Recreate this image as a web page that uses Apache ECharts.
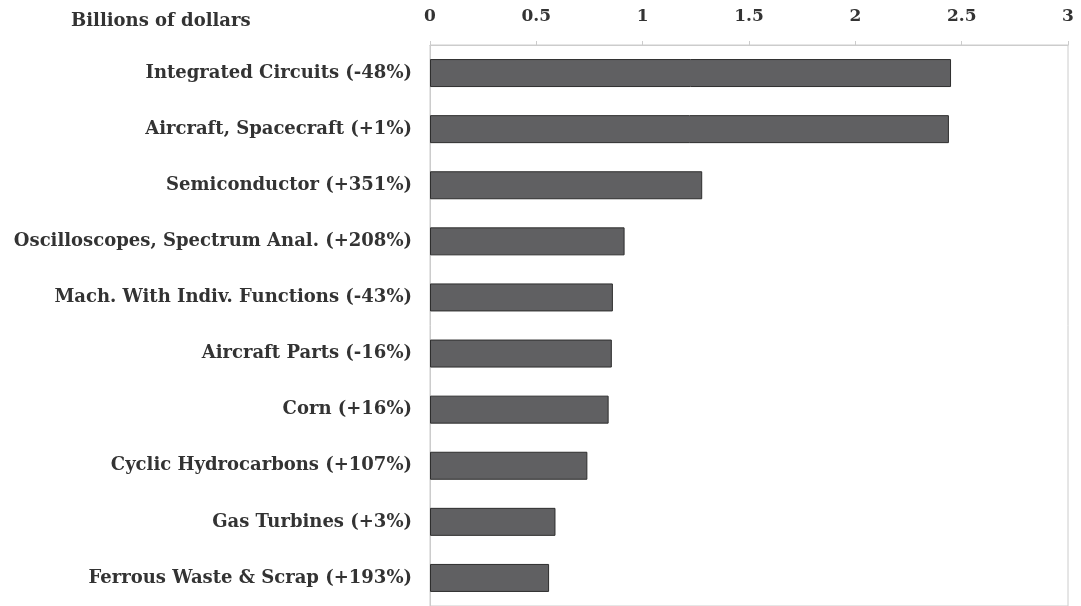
<!DOCTYPE html>
<html><head><meta charset="utf-8">
<script src="https://cdn.jsdelivr.net/npm/echarts@6/dist/echarts.min.js"></script>
<style>html,body{margin:0;padding:0;background:#fff}#c{width:1081px;height:606px}</style>
</head><body><div id="c"></div>
<script>
const categories = ["Integrated Circuits (-48%)","Aircraft, Spacecraft (+1%)","Semiconductor (+351%)","Oscilloscopes, Spectrum Anal. (+208%)","Mach. With Indiv. Functions (-43%)","Aircraft Parts (-16%)","Corn (+16%)","Cyclic Hydrocarbons (+107%)","Gas Turbines (+3%)","Ferrous Waste & Scrap (+193%)"];
const values = [2.45, 2.44, 1.28, 0.915, 0.86, 0.855, 0.84, 0.74, 0.59, 0.56];
const unitLabel = "Billions of dollars";
const xTicks = [0, 0.5, 1, 1.5, 2, 2.5, 3];

const font = "DejaVu Serif";
const chart = echarts.init(document.getElementById('c'));
chart.setOption({
  animation: false,
  title: { text: unitLabel, left: 66, top: 7, textStyle: { fontFamily: font, fontWeight: 'bold', fontSize: 18, color: '#333' } },
  grid: { left: 430, right: 13, top: 45, height: 564, show: true, borderColor: '#cccccc', borderWidth: 1, containLabel: false },
  xAxis: {
    type: 'value', position: 'top', min: 0, max: 3, interval: 0.5,
    axisLine: { show: true, lineStyle: { color: '#cccccc' } },
    axisTick: { show: true, length: 4, lineStyle: { color: '#cccccc' } },
    splitLine: { show: false },
    axisLabel: { fontFamily: font, fontWeight: 'bold', fontSize: 17, color: '#333', margin: 20,
      formatter: v => xTicks.includes(v) ? String(v) : '' }
  },
  yAxis: {
    type: 'category', data: categories, inverse: true,
    axisLine: { show: true, lineStyle: { color: '#cccccc' } },
    axisTick: { show: false },
    axisLabel: { fontFamily: font, fontWeight: 'bold', fontSize: 18, color: '#333', margin: 18 }
  },
  series: [{
    type: 'bar', data: values, barWidth: 28,
    itemStyle: { color: '#606062', borderColor: '#2e2e2e', borderWidth: 1 }
  }]
});
</script></body></html>
